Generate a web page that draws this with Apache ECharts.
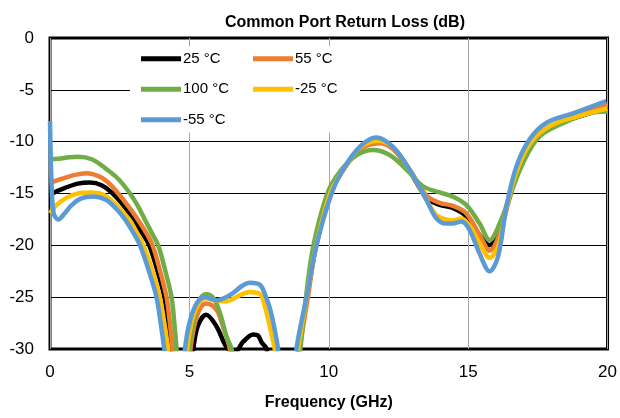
<!DOCTYPE html>
<html>
<head>
<meta charset="utf-8">
<script src="https://cdn.jsdelivr.net/npm/echarts@6/dist/echarts.min.js"></script>
<style>
  html, body { margin: 0; padding: 0; background: #fff; }
  #chart { width: 620px; height: 418px; }
</style>
</head>
<body>
<div id="chart"></div>
<script>
// tick labels / axis
const xTicks = [0, 5, 10, 15, 20];
const yTicks = [0, -5, -10, -15, -20, -25, -30];

const seriesNames = ['25 °C', '55 °C', '100 °C', '-25 °C', '-55 °C'];
const seriesColors = ['#000000', '#ED7D31', '#70AD47', '#FFC000', '#5B9BD5'];

// [GHz, dB]; points below -30 are clipped by the plot
const rl25 = [
  [0, -15.2], [0.15, -14.9], [0.5, -14.5], [1.0, -14.05], [1.43, -13.95], [1.85, -14.2],
  [2.25, -15], [2.65, -16.2], [3.0, -17.6], [3.3, -18.8], [3.56, -20], [3.86, -22.5],
  [4.1, -25], [4.23, -27.5], [4.33, -30], [4.7, -38], [5.14, -30], [5.3, -27.8], [5.6, -26.7],
  [5.97, -27.8], [6.33, -29.8], [6.63, -30.3], [6.93, -29.3], [7.29, -28.6], [7.46, -28.7],
  [7.6, -29.4], [7.77, -30], [8.1, -36], [8.6, -36], [8.92, -30], [9.22, -25],
  [9.55, -20], [10.05, -15], [10.5, -12.8], [11.1, -10.7], [11.8, -10.0], [12.3, -10.6],
  [12.9, -12.8], [13.5, -15.4], [13.98, -16.1], [14.45, -16.4], [14.93, -17.2], [15.41, -19.0],
  [15.77, -20.0], [16.13, -18.5], [16.45, -15.6], [16.85, -12.3], [17.4, -9.7], [18.2, -8.3],
  [19.2, -7.4], [20, -6.7]
];
const rl55 = [
  [0, -14.0], [0.4, -13.6], [0.9, -13.2], [1.31, -13.05], [1.8, -13.4], [2.15, -14.1],
  [2.45, -15], [2.8, -16.2], [3.15, -17.5], [3.43, -18.7], [3.68, -20], [3.95, -22.5],
  [4.18, -25], [4.3, -27.5], [4.4, -30], [4.7, -38], [5.04, -30], [5.2, -27.5], [5.4, -26],
  [5.6, -25.6], [5.97, -26.2], [6.2, -27.8], [6.45, -30], [6.7, -35], [7.5, -45],
  [8.6, -36], [8.95, -30], [9.25, -25], [9.55, -20], [10.05, -15], [10.5, -12.8],
  [11.1, -10.8], [11.8, -10.15], [12.3, -10.7], [12.9, -12.7], [13.5, -15.2], [13.98, -15.9],
  [14.45, -16.2], [14.93, -16.9], [15.41, -19.0], [15.77, -20.5], [16.13, -18.9], [16.45, -15.8],
  [16.85, -12.3], [17.4, -9.6], [18.2, -8.2], [19.2, -7.2], [20, -6.5]
];
const rl100 = [
  [0, -11.7], [0.3, -11.65], [0.7, -11.5], [1.0, -11.45], [1.5, -11.7], [2.0, -12.6],
  [2.45, -13.6], [2.87, -15], [3.15, -16.2], [3.4, -17.5], [3.65, -18.8], [3.88, -20],
  [4.14, -22.5], [4.36, -25], [4.46, -27.5], [4.54, -30], [4.75, -38], [4.99, -30], [5.15, -27.3],
  [5.35, -25.3], [5.6, -24.7], [5.8, -24.9], [5.97, -25.6], [6.15, -27], [6.33, -28.8],
  [6.51, -30], [6.8, -36], [7.5, -45], [8.7, -36], [8.98, -30], [9.18, -25],
  [9.45, -20], [9.95, -15], [10.4, -12.9], [11.0, -11.3], [11.59, -10.8], [12.19, -11.3],
  [12.79, -12.7], [13.38, -14.3], [13.98, -14.9], [14.45, -15.3], [14.93, -16.1], [15.41, -17.9],
  [15.77, -19.5], [16.13, -17.9], [16.49, -15.3], [16.96, -12.1], [17.56, -9.5], [18.52, -8.07],
  [19.35, -7.26], [20, -7.1]
];
const rlM25 = [
  [0, -16.9], [0.2, -16.2], [0.6, -15.4], [1.0, -15.0], [1.5, -14.9], [1.9, -15.1],
  [2.3, -15.9], [2.84, -17.5], [3.1, -18.7], [3.35, -20], [3.68, -22.5], [3.94, -25],
  [4.1, -27.5], [4.24, -30], [4.6, -38], [4.92, -30], [5.1, -27.2], [5.38, -25.4], [5.6, -25.1],
  [5.9, -25.3], [6.2, -25.4], [6.45, -25.3], [6.9, -24.7], [7.17, -24.5], [7.53, -24.7],
  [7.7, -25.8], [7.83, -27.2], [7.95, -28.6], [8.06, -30], [8.4, -38], [8.9, -30],
  [9.2, -25], [9.55, -20], [10.05, -15], [10.5, -12.8], [11.1, -10.6], [11.75, -9.9],
  [12.3, -10.5], [12.9, -12.7], [13.5, -15.6], [13.86, -17.1], [14.2, -17.5], [14.45, -17.6],
  [14.75, -17.4], [15.05, -18.1], [15.41, -19.8], [15.77, -21.2], [16.1, -19.9], [16.4, -16.0],
  [16.8, -12.4], [17.3, -9.9], [18.0, -8.4], [19.0, -7.5], [20, -6.8]
];
const rlM55 = [
  [0, -8.0], [0.05, -13.5], [0.13, -16.9], [0.3, -17.5], [0.5, -17.0], [0.75, -16.2],
  [1.1, -15.5], [1.55, -15.3], [2.0, -15.6], [2.35, -16.4], [2.69, -17.5], [2.97, -18.7],
  [3.23, -20], [3.55, -22.5], [3.82, -25], [3.97, -27.5], [4.1, -30], [4.5, -38], [4.84, -30],
  [5.0, -27.5], [5.26, -25.6], [5.56, -25.0], [5.97, -25.3], [6.45, -24.8], [6.9, -23.9],
  [7.17, -23.6], [7.53, -23.8], [7.75, -25], [7.9, -26.2], [8.05, -28], [8.18, -30],
  [8.5, -38], [8.84, -30], [9.2, -25], [9.56, -20], [10.1, -15], [10.51, -12.7],
  [11.11, -10.5], [11.7, -9.6], [12.3, -10.5], [12.9, -12.7], [13.5, -15.6], [13.86, -17.4],
  [14.2, -17.9], [14.45, -17.9], [14.75, -17.7], [15.05, -18.5], [15.41, -20.8], [15.77, -22.5],
  [16.07, -21.1], [16.37, -16.3], [16.73, -12.4], [17.2, -9.8], [17.8, -8.2], [18.76, -7.26],
  [19.95, -6.1]
];
const seriesData = [rl25, rl55, rl100, rlM25, rlM55];

const chart = echarts.init(document.getElementById('chart'));
const FONT = '"Liberation Sans", Arial, sans-serif';

const option = {
  backgroundColor: '#fff',
  animation: false,
  textStyle: { fontFamily: FONT },
  title: {
    text: 'Common Port Return Loss (dB)',
    left: 340,
    textAlign: 'center',
    top: 10,
    textStyle: { fontSize: 16, fontWeight: 'bold', color: '#000', fontFamily: FONT }
  },
  legend: {
    data: seriesNames,
    orient: 'horizontal',
    left: 130,
    top: 46,
    width: 230,
    padding: [0, 0, 0, 11],
    itemGap: 5,
    itemWidth: 40,
    itemHeight: 5,
    icon: 'rect',
    backgroundColor: '#fff',
    textStyle: {
      color: '#000',
      fontSize: 15,
      width: 65,
      lineHeight: 25.5,
      padding: [0, 0, 0, -3],
      fontFamily: FONT
    }
  },
  grid: {
    left: 50,
    right: 12,
    top: 38,
    bottom: 69,
    show: true,
    borderColor: '#000',
    borderWidth: 3,
    backgroundColor: 'transparent'
  },
  xAxis: {
    type: 'value',
    min: xTicks[0],
    max: xTicks[xTicks.length - 1],
    interval: 5,
    name: 'Frequency (GHz)',
    nameLocation: 'middle',
    nameGap: 46,
    nameTextStyle: { fontSize: 16, fontWeight: 'bold', color: '#000', fontFamily: FONT },
    axisLine: { show: false },
    axisTick: { show: false },
    axisLabel: { color: '#000', fontSize: 17, margin: 15, fontFamily: FONT },
    splitLine: { show: true, lineStyle: { color: '#A6A6A6', width: 1 } }
  },
  yAxis: {
    type: 'value',
    min: yTicks[yTicks.length - 1],
    max: yTicks[0],
    interval: 5,
    axisLine: { show: false },
    axisTick: { show: false },
    axisLabel: { color: '#000', fontSize: 17, margin: 16, fontFamily: FONT },
    splitLine: { show: true, lineStyle: { color: '#000', width: 1 } }
  },
  series: seriesNames.map((name, i) => ({
    name: name,
    type: 'line',
    data: seriesData[i],
    smooth: 0.35,
    showSymbol: false,
    symbol: 'none',
    clip: true,
    lineStyle: { width: 4.5, color: seriesColors[i] },
    itemStyle: { color: seriesColors[i] }
  }))
};

chart.setOption(option);
</script>
</body>
</html>
